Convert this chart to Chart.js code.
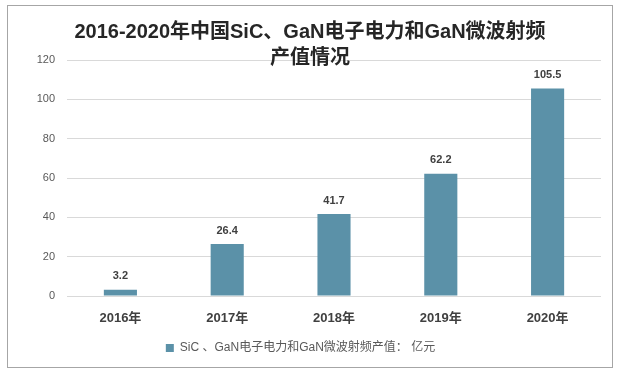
<!DOCTYPE html>
<html>
<head>
<meta charset="utf-8">
<script src="https://cdn.jsdelivr.net/npm/chart.js@4"></script>
<style>
  html, body { margin: 0; padding: 0; background: #fff; }
  #wrap { width: 619px; height: 373px; }
</style>
</head>
<body>
<div id="wrap"><canvas id="chart" width="619" height="373"></canvas></div>
<script>
// 数据
const years = ['2016年', '2017年', '2018年', '2019年', '2020年'];
const values = [3.2, 26.4, 41.7, 62.2, 105.5];
const seriesName = 'SiC 、GaN电子电力和GaN微波射频产值： 亿元';
const titleLines = ['2016-2020年中国SiC、GaN电子电力和GaN微波射频', '产值情况'];

const barColor = '#5b91a8';
const fontFamily = '"Liberation Sans", "Noto Sans CJK SC", sans-serif';

// 外框 + 标题
const framePlugin = {
    id: 'frame',
    afterDraw(chart) {
        const ctx = chart.ctx;
        ctx.save();
        ctx.strokeStyle = '#a6a6a6';
        ctx.lineWidth = 1;
        ctx.strokeRect(7.5, 5.5, 605, 362);
        ctx.fillStyle = '#262626';
        ctx.font = 'bold 20px ' + fontFamily;
        ctx.textAlign = 'center';
        ctx.textBaseline = 'middle';
        ctx.fillText(titleLines[0], 310, 32);
        ctx.fillText(titleLines[1], 310, 58);
        ctx.restore();
    }
};

// 数据标签
const labelPlugin = {
    id: 'barLabels',
    afterDatasetsDraw(chart) {
        const ctx = chart.ctx;
        const meta = chart.getDatasetMeta(0);
        ctx.save();
        ctx.fillStyle = '#404040';
        ctx.font = 'bold 11px ' + fontFamily;
        ctx.textAlign = 'center';
        ctx.textBaseline = 'bottom';
        meta.data.forEach((bar, i) => {
            ctx.fillText(values[i], bar.x, bar.y - 8);
        });
        ctx.restore();
    }
};

const ctx = document.getElementById('chart').getContext('2d');
const chart = new Chart(ctx, {
    type: 'bar',
    data: {
        labels: years,
        datasets: [{
            label: seriesName,
            data: values,
            backgroundColor: barColor,
            categoryPercentage: 1,
            barPercentage: 0.31
        }]
    },
    options: {
        responsive: false,
        animation: false,
        layout: { padding: { top: 60, right: 18, bottom: 9, left: 0 } },
        scales: {
            x: {
                grid: { display: false },
                border: { display: false },
                ticks: {
                    color: '#404040',
                    font: { family: fontFamily, size: 13, weight: 'bold' },
                    padding: 7
                },
                afterFit(scale) { scale.height = 38; }
            },
            y: {
                min: 0,
                max: 120,
                ticks: {
                    stepSize: 20,
                    color: '#595959',
                    font: { family: fontFamily, size: 11 },
                    padding: 12
                },
                grid: { color: '#d9d9d9', drawTicks: false },
                border: { display: false },
                afterFit(scale) { scale.width = 67; }
            }
        },
        plugins: {
            title: { display: false },
            tooltip: { enabled: false },
            legend: {
                position: 'bottom',
                labels: {
                    boxWidth: 8,
                    boxHeight: 8,
                    color: '#595959',
                    font: { family: fontFamily, size: 12 },
                    padding: 8
                }
            }
        }
    },
    plugins: [framePlugin, labelPlugin]
});
</script>
</body>
</html>
